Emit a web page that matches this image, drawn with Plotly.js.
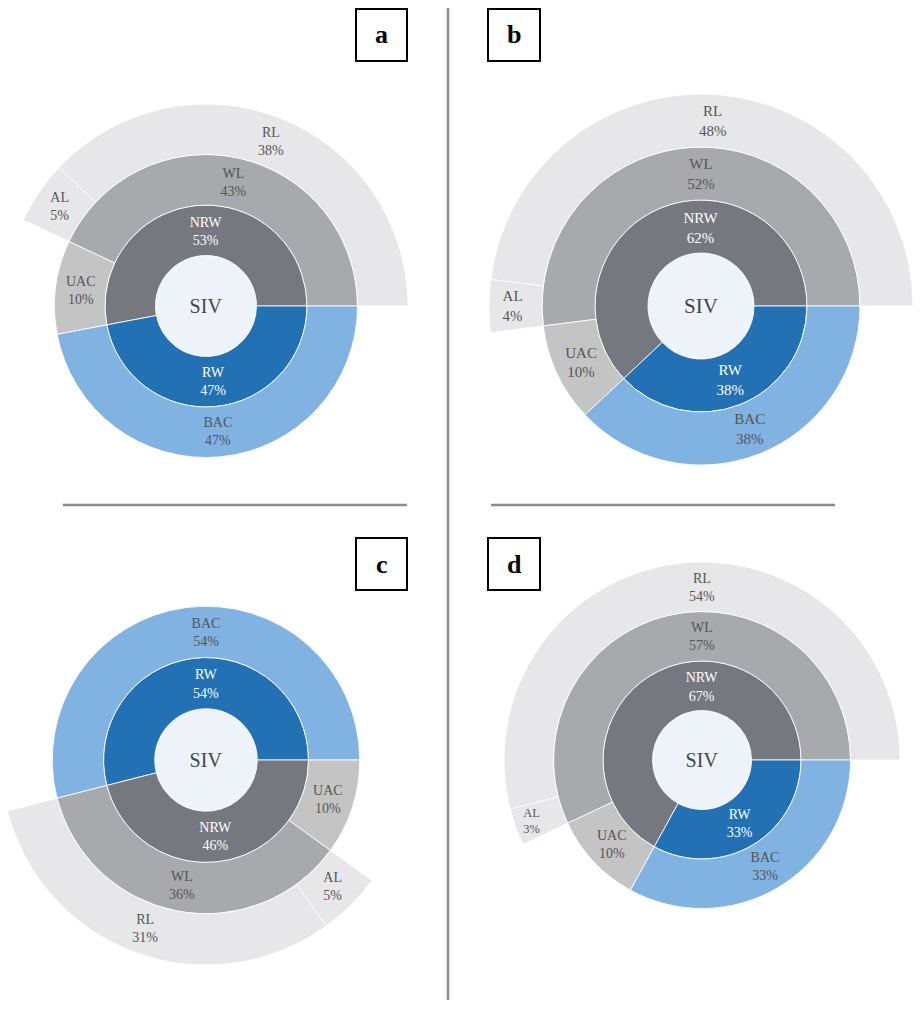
<!DOCTYPE html>
<html>
<head>
<meta charset="utf-8">
<script src="https://cdn.plot.ly/plotly-3.0.1.min.js"></script>
<style>html,body{margin:0;padding:0;background:#fff;}#chart{width:924px;height:1015px;}</style>
</head>
<body>
<div id="chart"></div>
<script>
// ---- data ----
const labels  = ["SIV", "NRW", "RW", "WL", "UAC", "BAC", "RL", "AL"];
const parents = ["", "SIV", "SIV", "NRW", "NRW", "RW", "WL", "WL"];
const valuesA = [100, 53, 47, 43, 10, 47, 38, 5];
const valuesB = [100, 62, 38, 52, 10, 38, 48, 4];
const valuesC = [100, 46, 54, 36, 10, 54, 31, 5];
const valuesD = [100, 67, 33, 57, 10, 33, 54, 3];
const panelLetters = ["a", "b", "c", "d"];

// ---- styling ----
const W = 924, H = 1015;
const sliceColors = ["#eef3fa", "#75787e", "#2171b4", "#a7a9ac", "#c4c4c5", "#80b2e2", "#e7e7e9", "#e7e7e9"];
const textColors  = ["#454545", "#ffffff", "#ffffff", "#555555", "#555555", "#555555", "#555555", "#555555"];
const serif = "Liberation Serif";
const templates = labels.map((l, i) => i === 0 ? "%{label}" : "%{label}<br>%{percentRoot:.0%}");

function dom(cx, cy, r) {
  return {
    x: [(cx - r) / W, (cx + r) / W],
    y: [1 - (cy + r) / H, 1 - (cy - r) / H]
  };
}

function sun(values, d, fs) {
  const font = {family: serif, size: labels.map((l, i) => i === 0 ? fs + 6 : fs), color: textColors};
  return {
    type: "sunburst",
    labels: labels,
    parents: parents,
    values: values,
    branchvalues: "total",
    sort: true,
    domain: d,
    texttemplate: templates,
    insidetextorientation: "horizontal",
    textfont: font,
    insidetextfont: font,
    marker: {colors: sliceColors, line: {color: "rgba(255,255,255,0.85)", width: 1}},
    leaf: {opacity: 1},
    hoverinfo: "skip"
  };
}

const data = [
  sun(valuesA, dom(206, 306, 202), 14),
  sun(valuesB, dom(701, 306, 212), 15),
  sun(valuesC, dom(206, 760, 205), 14),
  sun(valuesD, dom(702, 760, 198), 14)
];

const px = x => x / W, py = y => 1 - y / H;
const lineCol = "#8c8c8c";
const shapes = [
  {type: "line", xref: "paper", yref: "paper", x0: px(448), x1: px(448), y0: py(8), y1: py(1000), line: {color: lineCol, width: 2.5}},
  {type: "line", xref: "paper", yref: "paper", x0: px(63), x1: px(407), y0: py(505), y1: py(505), line: {color: lineCol, width: 2.5}},
  {type: "line", xref: "paper", yref: "paper", x0: px(491), x1: px(835), y0: py(505), y1: py(505), line: {color: lineCol, width: 2.5}}
];
const boxes = [[356, 9, 407, 61], [488, 9, 540, 61], [356, 538, 407, 590], [488, 538, 540, 590]];
const annotations = [];
boxes.forEach((b, i) => {
  shapes.push({type: "rect", xref: "paper", yref: "paper", x0: px(b[0]), x1: px(b[2]), y0: py(b[3]), y1: py(b[1]), line: {color: "#000", width: 2}, fillcolor: "rgba(0,0,0,0)"});
  annotations.push({xref: "paper", yref: "paper", x: px((b[0] + b[2]) / 2), y: py((b[1] + b[3]) / 2), text: "<b>" + panelLetters[i] + "</b>", showarrow: false, xanchor: "center", yanchor: "middle", font: {family: serif, size: 26, color: "#000"}});
});

const layout = {
  width: W, height: H,
  margin: {l: 0, r: 0, t: 0, b: 0},
  paper_bgcolor: "#ffffff",
  font: {family: serif},
  showlegend: false,
  shapes: shapes,
  annotations: annotations
};

Plotly.newPlot("chart", data, layout, {displayModeBar: false, staticPlot: true});
</script>
</body>
</html>
